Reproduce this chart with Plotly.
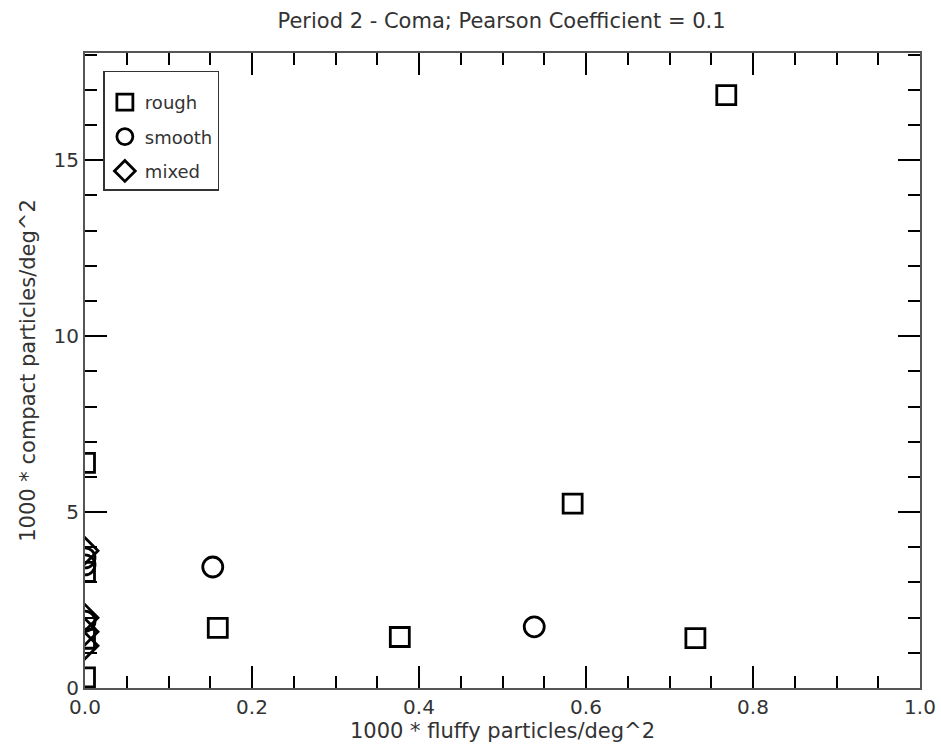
import plotly.graph_objects as go

# rough (squares)
rough_x = [0.768, 0.584, 0.159, 0.377, 0.731, 0.0, 0.0, 0.0, 0.0]
rough_y = [16.85, 5.24, 1.71, 1.45, 1.42, 6.4, 0.3, 3.3, 1.4]
# smooth (circles)
smooth_x = [0.153, 0.538, 0.0, 0.0, 0.0]
smooth_y = [3.44, 1.74, 3.7, 3.5, 1.9]
# mixed (diamonds)
mixed_x = [0.0, 0.0, 0.0, 0.0]
mixed_y = [3.9, 2.0, 1.6, 1.2]

title_text = "Period 2 - Coma; Pearson Coefficient = 0.1"
x_title = "1000 * fluffy particles/deg^2"
y_title = "1000 * compact particles/deg^2"

FONT = "DejaVu Sans"
mline = dict(color="black", width=2.8)

fig = go.Figure()
fig.add_trace(go.Scatter(x=rough_x, y=rough_y, mode="markers", name="rough", legendgroup="a",
                         marker=dict(symbol="square-open", size=19, color="black", line=mline)))
fig.add_trace(go.Scatter(x=smooth_x, y=smooth_y, mode="markers", name="smooth", legendgroup="b",
                         marker=dict(symbol="circle-open", size=20, color="black", line=mline)))
fig.add_trace(go.Scatter(x=mixed_x, y=mixed_y, mode="markers", name="mixed", legendgroup="c",
                         marker=dict(symbol="diamond-open", size=20, color="black", line=mline)))

axis_common = dict(
    showgrid=False, zeroline=False, showline=True, linecolor="#555", linewidth=2,
    mirror="allticks", ticks="inside", tickcolor="black", tickwidth=1.5, ticklen=22,
    tickfont=dict(family=FONT, size=20, color="#333"), automargin=False,
)

fig.update_xaxes(range=[0, 1], tickvals=[0, 0.2, 0.4, 0.6, 0.8, 1.0],
                 ticktext=["0.0", "0.2", "0.4", "0.6", "0.8", "1.0"],
                 minor=dict(dtick=0.05, ticks="inside", ticklen=12, tickcolor="black", tickwidth=1.5),
                 title=dict(text=x_title, font=dict(family=FONT, size=21, color="#333"), standoff=0),
                 **axis_common)
fig.update_yaxes(range=[0, 18.05], tickvals=[0, 5, 10, 15],
                 minor=dict(dtick=1, ticks="inside", ticklen=12, tickcolor="black", tickwidth=1.5),
                 title=dict(text=y_title, font=dict(family=FONT, size=21, color="#333"), standoff=12),
                 **axis_common)

fig.update_layout(
    width=941, height=747,
    margin=dict(l=85, r=21, t=53, b=59),
    paper_bgcolor="white", plot_bgcolor="white",
    title=dict(text=title_text, x=0.533, xanchor="center", y=0.973, yanchor="middle",
               font=dict(family=FONT, size=21, color="#333")),
    showlegend=True,
    legend=dict(x=0.022, y=0.972, xanchor="left", yanchor="top",
                bgcolor="white", bordercolor="#333", borderwidth=1.5,
                font=dict(family=FONT, size=18, color="#333"),
                title=dict(text=" ", font=dict(size=9)),
                itemwidth=30, tracegroupgap=8),
)

fig.write_html("out.html")
